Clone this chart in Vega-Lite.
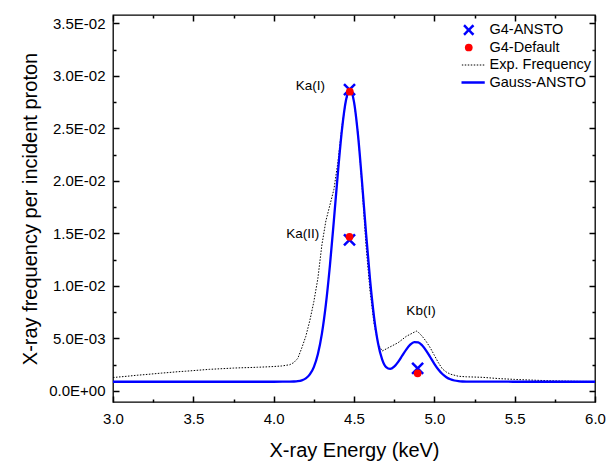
{
  "$schema": "https://vega.github.io/schema/vega-lite/v6.json",
  "width": 482,
  "height": 387,
  "autosize": "none",
  "padding": {"left": 113, "top": 15, "right": 18, "bottom": 61},
  "background": "white",
  "config": {
    "view": {"stroke": "#000000", "strokeWidth": 1.3},
    "font": "Liberation Sans",
    "axis": {
      "grid": false,
      "domain": false,
      "ticks": true,
      "tickColor": "#000000",
      "tickOpacity": 1,
      "tickWidth": 1.5,
      "labelColor": "#000000",
      "labelFont": "Liberation Sans",
      "labelFontSize": 15,
      "titleFont": "Liberation Sans",
      "titleFontSize": 20,
      "titleFontWeight": "normal",
      "titleColor": "#000000"
    }
  },
  "datasets": {
    "exp": [
      {"E": 3.0, "f": 0.00128}, {"E": 3.05, "f": 0.00135}, {"E": 3.1, "f": 0.00142}, {"E": 3.15, "f": 0.0015},
      {"E": 3.2, "f": 0.00156}, {"E": 3.25, "f": 0.00163}, {"E": 3.3, "f": 0.0017}, {"E": 3.35, "f": 0.00176},
      {"E": 3.4, "f": 0.00183}, {"E": 3.45, "f": 0.00188}, {"E": 3.5, "f": 0.00194}, {"E": 3.55, "f": 0.002},
      {"E": 3.6, "f": 0.00206}, {"E": 3.65, "f": 0.0021}, {"E": 3.7, "f": 0.00214}, {"E": 3.75, "f": 0.00218},
      {"E": 3.8, "f": 0.00221}, {"E": 3.85, "f": 0.00223}, {"E": 3.9, "f": 0.00226}, {"E": 3.95, "f": 0.00229},
      {"E": 4.0, "f": 0.00233}, {"E": 4.05, "f": 0.00238}, {"E": 4.1, "f": 0.0025}, {"E": 4.125, "f": 0.0027},
      {"E": 4.15, "f": 0.0031}, {"E": 4.175, "f": 0.0041}, {"E": 4.2, "f": 0.0052}, {"E": 4.225, "f": 0.0067},
      {"E": 4.25, "f": 0.0085}, {"E": 4.275, "f": 0.0107}, {"E": 4.3, "f": 0.0139}, {"E": 4.325, "f": 0.0162},
      {"E": 4.35, "f": 0.0177}, {"E": 4.375, "f": 0.0192}, {"E": 4.4, "f": 0.0218}, {"E": 4.425, "f": 0.0252},
      {"E": 4.45, "f": 0.0277}, {"E": 4.475, "f": 0.0288}, {"E": 4.5, "f": 0.0276}, {"E": 4.525, "f": 0.0246},
      {"E": 4.55, "f": 0.0195}, {"E": 4.575, "f": 0.0138}, {"E": 4.6, "f": 0.0095}, {"E": 4.625, "f": 0.0064},
      {"E": 4.65, "f": 0.0045}, {"E": 4.675, "f": 0.0038}, {"E": 4.7, "f": 0.004}, {"E": 4.725, "f": 0.0042},
      {"E": 4.75, "f": 0.0044}, {"E": 4.775, "f": 0.0046}, {"E": 4.8, "f": 0.0049}, {"E": 4.825, "f": 0.0052},
      {"E": 4.85, "f": 0.0054}, {"E": 4.875, "f": 0.0056}, {"E": 4.89, "f": 0.0057}, {"E": 4.9, "f": 0.0056},
      {"E": 4.925, "f": 0.0052}, {"E": 4.95, "f": 0.0047}, {"E": 4.975, "f": 0.0041}, {"E": 5.0, "f": 0.0034},
      {"E": 5.025, "f": 0.0027}, {"E": 5.05, "f": 0.0021}, {"E": 5.075, "f": 0.0018}, {"E": 5.1, "f": 0.0016},
      {"E": 5.15, "f": 0.0014}, {"E": 5.2, "f": 0.00135}, {"E": 5.3, "f": 0.0013}, {"E": 5.4, "f": 0.00118},
      {"E": 5.5, "f": 0.0011}, {"E": 5.6, "f": 0.00104}, {"E": 5.7, "f": 0.00098}, {"E": 5.8, "f": 0.00094},
      {"E": 5.9, "f": 0.00091}, {"E": 6.0, "f": 0.0009}
    ],
    "gauss": [
      {"E": 3.0, "f": 0.00088}, {"E": 3.5, "f": 0.00088}, {"E": 4.0, "f": 0.00088}, {"E": 4.1, "f": 0.000887},
      {"E": 4.125, "f": 0.0009}, {"E": 4.15, "f": 0.000934}, {"E": 4.175, "f": 0.001017}, {"E": 4.2, "f": 0.001199},
      {"E": 4.225, "f": 0.001573}, {"E": 4.25, "f": 0.002276}, {"E": 4.275, "f": 0.003496}, {"E": 4.3, "f": 0.005434},
      {"E": 4.325, "f": 0.008239}, {"E": 4.35, "f": 0.011925}, {"E": 4.375, "f": 0.016278}, {"E": 4.4, "f": 0.020821},
      {"E": 4.425, "f": 0.024863}, {"E": 4.45, "f": 0.027674}, {"E": 4.475, "f": 0.02868}, {"E": 4.5, "f": 0.027529},
      {"E": 4.525, "f": 0.024357}, {"E": 4.55, "f": 0.019887}, {"E": 4.575, "f": 0.015019}, {"E": 4.6, "f": 0.010577},
      {"E": 4.625, "f": 0.007018}, {"E": 4.65, "f": 0.004521}, {"E": 4.675, "f": 0.003005}, {"E": 4.7, "f": 0.002268},
      {"E": 4.725, "f": 0.002096}, {"E": 4.75, "f": 0.002311}, {"E": 4.775, "f": 0.002773}, {"E": 4.8, "f": 0.003359},
      {"E": 4.825, "f": 0.003944}, {"E": 4.85, "f": 0.004409}, {"E": 4.875, "f": 0.004657}, {"E": 4.9, "f": 0.004629},
      {"E": 4.925, "f": 0.00433}, {"E": 4.95, "f": 0.003824}, {"E": 4.975, "f": 0.00321}, {"E": 5.0, "f": 0.00259},
      {"E": 5.025, "f": 0.002044}, {"E": 5.05, "f": 0.001614}, {"E": 5.075, "f": 0.00131}, {"E": 5.1, "f": 0.001113},
      {"E": 5.125, "f": 0.000997}, {"E": 5.15, "f": 0.000935}, {"E": 5.175, "f": 0.000904}, {"E": 5.2, "f": 0.00089},
      {"E": 5.5, "f": 0.00088}, {"E": 6.0, "f": 0.00088}
    ],
    "ansto": [
      {"E": 4.472, "f": 0.0287},
      {"E": 4.472, "f": 0.01438},
      {"E": 4.896, "f": 0.00216}
    ],
    "default": [
      {"E": 4.474, "f": 0.0285},
      {"E": 4.472, "f": 0.01468},
      {"E": 4.896, "f": 0.00168}
    ],
    "labels": [
      {"E": 4.228, "f": 0.029, "label": "Ka(I)"},
      {"E": 4.181, "f": 0.0149, "label": "Ka(II)"},
      {"E": 4.917, "f": 0.0076, "label": "Kb(I)"}
    ]
  },
  "resolve": {
    "scale": {"x": "shared", "y": "shared", "color": "shared"},
    "axis": {"x": "independent", "y": "independent"}
  },
  "layer": [
    {
      "data": {"name": "exp"},
      "mark": {"type": "line", "strokeWidth": 1, "strokeDash": [1.5, 1.5], "clip": true},
      "encoding": {
        "x": {
          "field": "E", "type": "quantitative",
          "scale": {"domain": [3, 6], "nice": false, "zero": false},
          "axis": {"orient": "bottom", "title": "X-ray Energy (keV)", "values": [3, 3.5, 4, 4.5, 5, 5.5, 6],
                   "format": ".1f", "offset": -6, "tickSize": 6, "labelPadding": 9, "titlePadding": 14, "labelFlush": false}
        },
        "y": {
          "field": "f", "type": "quantitative",
          "scale": {"domain": [-0.00105, 0.0358], "nice": false, "zero": false},
          "axis": {"orient": "left", "title": "X-ray frequency per incident proton",
                   "values": [0, 0.005, 0.01, 0.015, 0.02, 0.025, 0.03, 0.035],
                   "labelExpr": "datum.value === 0 ? '0.0E+00' : replace(format(datum.value, '.1e'), 'e-', 'E-0')",
                   "offset": -6, "tickSize": 6, "labelPadding": 8, "titlePadding": 8, "labelFlush": false}
        },
        "color": {
          "datum": "Exp. Frequency",
          "scale": {"domain": ["G4-ANSTO", "G4-Default", "Exp. Frequency", "Gauss-ANSTO"],
                    "range": ["#0000ff", "#ff0000", "#000000", "#0000ff"]},
          "legend": {
            "title": null,
            "orient": "none",
            "legendX": 348.5,
            "legendY": 7,
            "padding": 0,
            "symbolSize": 1024,
            "symbolStrokeWidth": 1,
            "symbolOffset": 0,
            "labelOffset": 13.5,
            "clipHeight": 16,
            "rowPadding": 1.5,
            "labelFont": "Liberation Sans",
            "labelFontSize": 14.5,
            "labelColor": "#000000",
            "labelLimit": 200,
            "encode": {
              "symbols": {
                "update": {
                  "shape": {"signal": "datum.value === 'G4-ANSTO' ? 'M-1,-1L1,1M-1,1L1,-1' : datum.value === 'G4-Default' ? 'circle' : 'stroke'"},
                  "size": {"signal": "datum.value === 'G4-ANSTO' ? 90 : datum.value === 'G4-Default' ? 60 : 1024"},
                  "fill": {"signal": "datum.value === 'G4-Default' ? '#ff0000' : 'transparent'"},
                  "stroke": {"signal": "datum.value === 'G4-Default' ? 'transparent' : datum.value === 'Exp. Frequency' ? '#000000' : '#0000ff'"},
                  "strokeWidth": {"signal": "datum.value === 'Exp. Frequency' ? 1 : datum.value === 'G4-Default' ? 0 : 2.5"},
                  "strokeDash": {"signal": "datum.value === 'Exp. Frequency' ? [1.5, 1.5] : [1, 0]"},
                  "opacity": {"value": 1}
                }
              }
            }
          }
        }
      }
    },
    {
      "data": {"name": "gauss"},
      "mark": {"type": "line", "strokeWidth": 2.3, "interpolate": "monotone", "clip": true},
      "encoding": {
        "x": {"field": "E", "type": "quantitative",
              "axis": {"orient": "top", "title": null, "labels": false, "values": [3, 3.5, 4, 4.5, 5, 5.5, 6], "offset": -6, "tickSize": 6}},
        "y": {"field": "f", "type": "quantitative",
              "axis": {"orient": "right", "title": null, "labels": false, "values": [0, 0.005, 0.01, 0.015, 0.02, 0.025, 0.03, 0.035], "offset": -6, "tickSize": 6}},
        "color": {"datum": "Gauss-ANSTO"}
      }
    },
    {
      "data": {"name": "ansto"},
      "mark": {"type": "point", "shape": "M-1,-1L1,1M-1,1L1,-1", "filled": false, "size": 121, "strokeWidth": 2.5, "opacity": 1},
      "encoding": {
        "x": {"field": "E", "type": "quantitative",
              "axis": {"orient": "bottom", "title": null, "labels": false, "values": [3.25, 3.75, 4.25, 4.75, 5.25, 5.75], "offset": -3, "tickSize": 3}},
        "y": {"field": "f", "type": "quantitative",
              "axis": {"orient": "left", "title": null, "labels": false, "values": [0.0025, 0.0075, 0.0125, 0.0175, 0.0225, 0.0275, 0.0325], "offset": -3, "tickSize": 3}},
        "color": {"datum": "G4-ANSTO"}
      }
    },
    {
      "data": {"name": "default"},
      "mark": {"type": "point", "shape": "circle", "filled": true, "size": 60, "opacity": 1},
      "encoding": {
        "x": {"field": "E", "type": "quantitative",
              "axis": {"orient": "top", "title": null, "labels": false, "values": [3.25, 3.75, 4.25, 4.75, 5.25, 5.75], "offset": -3, "tickSize": 3}},
        "y": {"field": "f", "type": "quantitative",
              "axis": {"orient": "right", "title": null, "labels": false, "values": [0.0025, 0.0075, 0.0125, 0.0175, 0.0225, 0.0275, 0.0325], "offset": -3, "tickSize": 3}},
        "color": {"datum": "G4-Default"}
      }
    },
    {
      "data": {"name": "labels"},
      "mark": {"type": "text", "font": "Liberation Sans", "fontSize": 13.5, "color": "#000000", "align": "center", "baseline": "middle"},
      "encoding": {
        "x": {"field": "E", "type": "quantitative", "axis": null},
        "y": {"field": "f", "type": "quantitative", "axis": null},
        "text": {"field": "label", "type": "nominal"}
      }
    }
  ]
}
